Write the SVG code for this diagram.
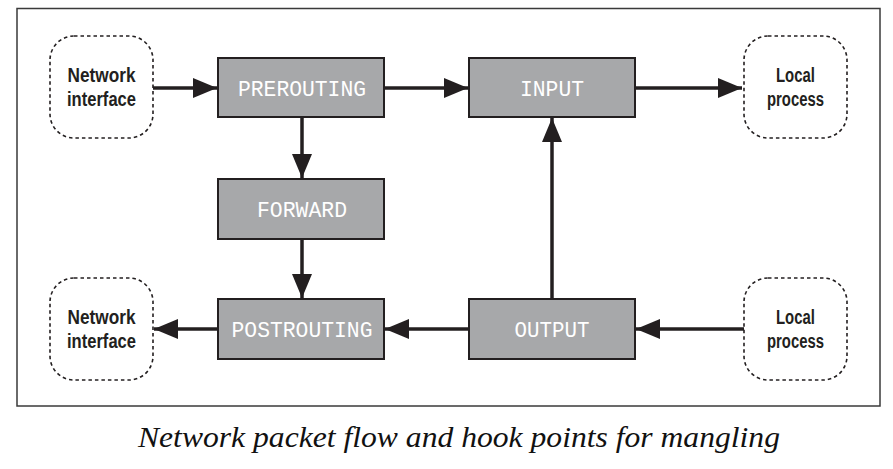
<svg xmlns="http://www.w3.org/2000/svg" width="893" height="469" viewBox="0 0 893 469">
<defs>
<style>
.frame{fill:#fff;stroke:#3a3a3a;stroke-width:1.5}
.ext{fill:#fff;stroke:#231f20;stroke-width:1.6;stroke-dasharray:3.5 3}
.hook{fill:#a7a8aa;stroke:#231f20;stroke-width:2}
.hl{font-family:"Liberation Mono","DejaVu Sans Mono",monospace;font-size:22px;fill:#fff;text-anchor:middle}
.el{font-family:"Liberation Sans",Arial,sans-serif;font-weight:bold;font-size:20px;fill:#231f20;text-anchor:middle}
.conn line{stroke:#231f20;stroke-width:3.5}
.cap{font-family:"Liberation Serif","Times New Roman",serif;font-style:italic;font-size:30px;fill:#111}
</style>
<marker id="ah" viewBox="0 0 24 20" refX="24" refY="10" markerWidth="24" markerHeight="20" markerUnits="userSpaceOnUse" orient="auto">
<path d="M0,0 L24,10 L0,20 Z" fill="#231f20"/>
</marker>
</defs>
<rect width="893" height="469" fill="#fff"/>
<rect class="frame" x="17" y="8.5" width="863" height="397.5"/>

<g id="net-in">
<rect class="ext" x="50" y="36" width="103" height="102" rx="24"/>
<text class="el" x="101.5" y="82" textLength="68" lengthAdjust="spacingAndGlyphs">Network</text>
<text class="el" x="101.5" y="106" textLength="69" lengthAdjust="spacingAndGlyphs">interface</text>
</g>
<g id="local-in">
<rect class="ext" x="744" y="36" width="103" height="102" rx="24"/>
<text class="el" x="795.5" y="82" textLength="39" lengthAdjust="spacingAndGlyphs">Local</text>
<text class="el" x="795.5" y="106" textLength="57" lengthAdjust="spacingAndGlyphs">process</text>
</g>
<g id="net-out">
<rect class="ext" x="50" y="278" width="103" height="102" rx="24"/>
<text class="el" x="101.5" y="324" textLength="68" lengthAdjust="spacingAndGlyphs">Network</text>
<text class="el" x="101.5" y="348" textLength="69" lengthAdjust="spacingAndGlyphs">interface</text>
</g>
<g id="local-out">
<rect class="ext" x="744" y="278" width="103" height="102" rx="24"/>
<text class="el" x="795.5" y="324" textLength="39" lengthAdjust="spacingAndGlyphs">Local</text>
<text class="el" x="795.5" y="348" textLength="57" lengthAdjust="spacingAndGlyphs">process</text>
</g>

<g id="prerouting">
<rect class="hook" x="218" y="58" width="166" height="59"/>
<text class="hl" x="302" y="96" textLength="128" lengthAdjust="spacingAndGlyphs">PREROUTING</text>
</g>
<g id="input">
<rect class="hook" x="469" y="58" width="166" height="59"/>
<text class="hl" x="552" y="96" textLength="64" lengthAdjust="spacingAndGlyphs">INPUT</text>
</g>
<g id="forward">
<rect class="hook" x="218" y="179" width="166" height="60"/>
<text class="hl" x="302" y="217" textLength="90" lengthAdjust="spacingAndGlyphs">FORWARD</text>
</g>
<g id="postrouting">
<rect class="hook" x="218" y="299" width="166" height="60"/>
<text class="hl" x="302" y="337" textLength="141" lengthAdjust="spacingAndGlyphs">POSTROUTING</text>
</g>
<g id="output">
<rect class="hook" x="469" y="299" width="166" height="60"/>
<text class="hl" x="552" y="337" textLength="75" lengthAdjust="spacingAndGlyphs">OUTPUT</text>
</g>

<g id="connectors" class="conn">
<line x1="153" y1="88" x2="217" y2="88" marker-end="url(#ah)"/>
<line x1="384" y1="88" x2="468" y2="88" marker-end="url(#ah)"/>
<line x1="635" y1="88" x2="742" y2="88" marker-end="url(#ah)"/>
<line x1="302" y1="117" x2="302" y2="178" marker-end="url(#ah)"/>
<line x1="302" y1="239" x2="302" y2="298" marker-end="url(#ah)"/>
<line x1="552" y1="299" x2="552" y2="118" marker-end="url(#ah)"/>
<line x1="744" y1="329" x2="636" y2="329" marker-end="url(#ah)"/>
<line x1="469" y1="329" x2="385" y2="329" marker-end="url(#ah)"/>
<line x1="218" y1="329" x2="154" y2="329" marker-end="url(#ah)"/>
</g>

<text class="cap" x="138" y="447" textLength="642" lengthAdjust="spacingAndGlyphs">Network packet flow and hook points for mangling</text>
</svg>
